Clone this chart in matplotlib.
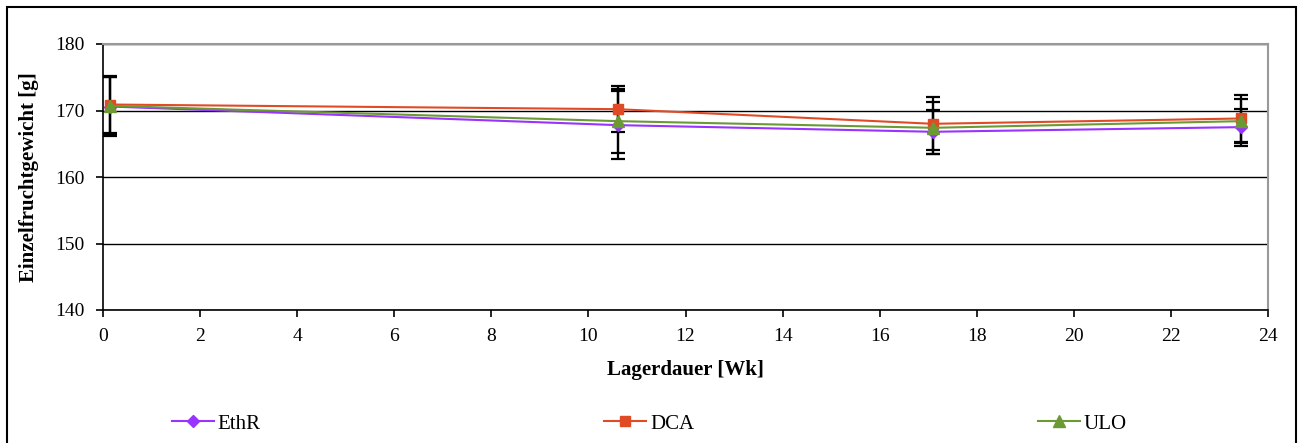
import matplotlib
matplotlib.use("Agg")
import matplotlib.pyplot as plt
from matplotlib.patches import Rectangle

plt.rcParams.update({
    "font.family": ["Liberation Serif", "DejaVu Serif"],
    "font.size": 14,
})

# Lagerdauer in Wochen
weeks = [0.14, 10.6, 17.1, 23.45]

# Einzelfruchtgewicht (Mittelwert und Standardabweichung)
ethr_mean = [170.6, 167.8, 166.8, 167.5]
ethr_sd = [4.4, 5.1, 3.3, 2.8]
dca_mean = [170.9, 170.2, 168.0, 168.8]
dca_sd = [4.3, 3.5, 4.0, 3.5]
ulo_mean = [170.7, 168.4, 167.4, 168.4]
ulo_sd = [4.4, 4.8, 3.9, 3.3]

series = [
    ("EthR", ethr_mean, ethr_sd, "#9933ff", "D", 6),
    ("DCA", dca_mean, dca_sd, "#e04b26", "s", 7),
    ("ULO", ulo_mean, ulo_sd, "#6b9a34", "^", 8),
]

fig = plt.figure(figsize=(12.99, 4.43), dpi=100)
ax = fig.add_axes([103 / 1299, 1 - 310 / 443, 1165 / 1299, 266 / 443])

for label, mean, sd, color, marker, ms in series:
    ax.errorbar(weeks, mean, yerr=sd, fmt="none", ecolor="black",
                elinewidth=1.6, capsize=5, capthick=1.6, zorder=2)
for label, mean, sd, color, marker, ms in series:
    ax.plot(weeks, mean, color=color, marker=marker, markersize=ms,
            linewidth=1.5, label=label, zorder=3)

ax.set_xlim(0, 24)
ax.set_ylim(140, 180)
ax.set_xticks(range(0, 25, 2))
ax.set_yticks(range(140, 181, 10))
ax.yaxis.grid(True, color="black", linewidth=1.0)
ax.set_axisbelow(True)
for side in ("top", "right"):
    ax.spines[side].set_color("#999999")
    ax.spines[side].set_linewidth(1.5)
for side in ("left", "bottom"):
    ax.spines[side].set_color("black")
    ax.spines[side].set_linewidth(1.2)
ax.tick_params(direction="out", length=5, width=1.2, pad=8)

ax.set_xlabel("Lagerdauer [Wk]", fontweight="bold", fontsize=15, labelpad=11)
ax.set_ylabel("Einzelfruchtgewicht [g]", fontweight="bold", fontsize=15,
              labelpad=12)

handles, labels = ax.get_legend_handles_labels()
fig.legend(handles, labels, loc="center", bbox_to_anchor=(0.5, 1 - 424 / 443),
           ncol=3, frameon=False, columnspacing=16.5, handlelength=2,
           handletextpad=0.2, fontsize=15)

# Rahmen um die gesamte Grafik
fig.patches.append(Rectangle((7 / 1299, -0.01), 1289 / 1299, 1 - 7 / 443 + 0.01,
                             transform=fig.transFigure, fill=False,
                             edgecolor="black", linewidth=1.5))

fig.savefig("out.png", dpi=100)
